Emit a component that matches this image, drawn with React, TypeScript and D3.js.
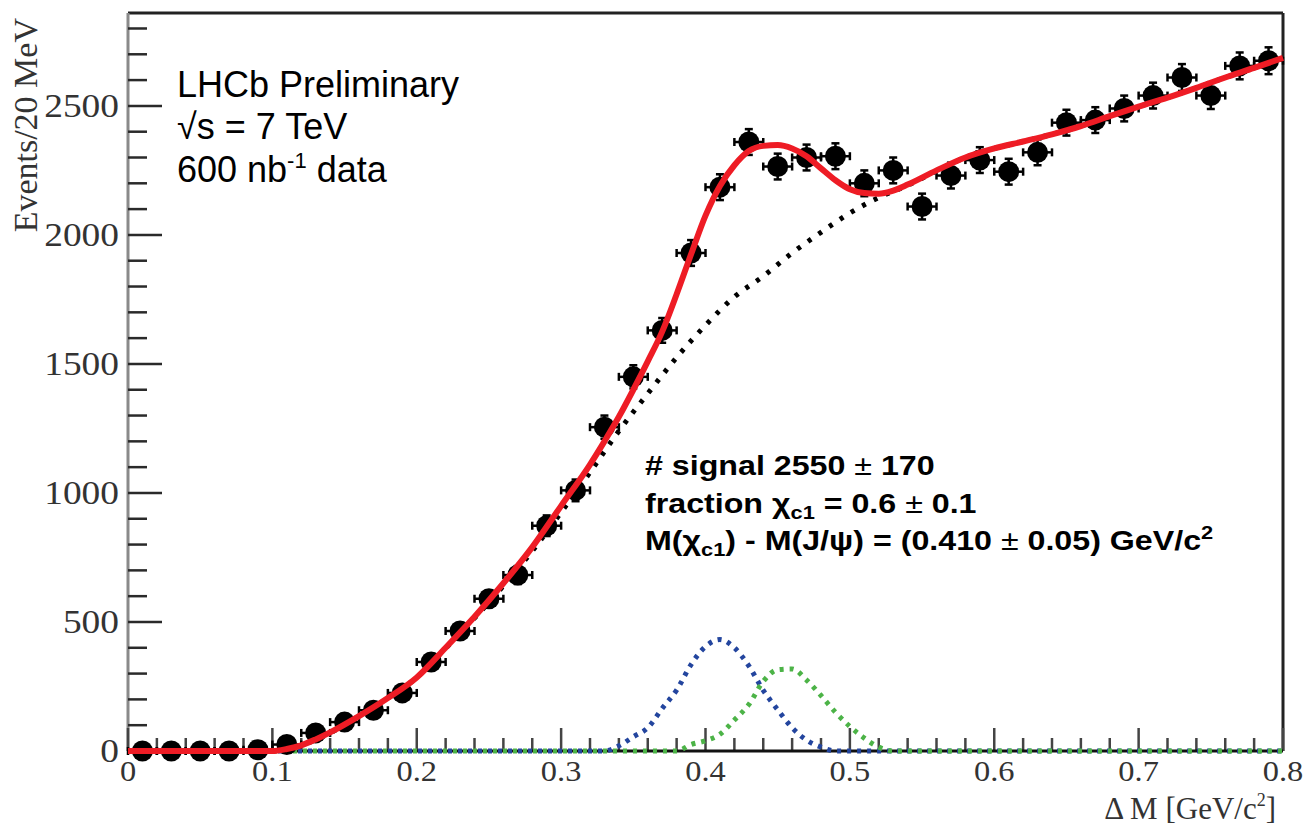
import React from "react";
import * as d3 from "d3";

// Measured Δm distribution (bin centres, counts, Poisson errors)
const binCenters = [
  0.01, 0.03, 0.05, 0.07, 0.09, 0.11, 0.13, 0.15, 0.17, 0.19,
  0.21, 0.23, 0.25, 0.27, 0.29, 0.31, 0.33, 0.35, 0.37, 0.39,
  0.41, 0.43, 0.45, 0.47, 0.49, 0.51, 0.53, 0.55, 0.57, 0.59,
  0.61, 0.63, 0.65, 0.67, 0.69, 0.71, 0.73, 0.75, 0.77, 0.79,
];
const counts = [
  0, 0, 0, 0, 5, 25, 70, 112, 158, 225,
  345, 465, 590, 682, 873, 1010, 1255, 1450, 1630, 1930,
  2185, 2360, 2265, 2300, 2305, 2200, 2250, 2110, 2230, 2290,
  2245, 2320, 2435, 2445, 2490, 2540, 2610, 2540, 2655, 2675,
];
const countErrors = [
  3, 3, 3, 3, 5, 8, 12, 15, 18, 20,
  25, 28, 32, 35, 40, 42, 45, 45, 48, 50,
  50, 50, 50, 50, 50, 50, 50, 50, 50, 50,
  50, 50, 50, 50, 50, 50, 52, 52, 52, 52,
];
const binHalfWidth = 0.01;

// Total fit
const fitX = [
  0, 0.05, 0.1, 0.11, 0.12, 0.13, 0.14, 0.16, 0.18, 0.2, 0.22, 0.24, 0.26, 0.28, 0.3,
  0.32, 0.33, 0.34, 0.35, 0.36, 0.37, 0.38, 0.39, 0.4, 0.41, 0.42, 0.43, 0.44, 0.45,
  0.46, 0.47, 0.48, 0.49, 0.5, 0.51, 0.52, 0.53, 0.54, 0.56, 0.58, 0.6, 0.62, 0.64,
  0.66, 0.68, 0.7, 0.72, 0.74, 0.76, 0.78, 0.8,
];
const fitTotal = [
  0, 0, 0, 8, 22, 45, 72, 135, 205, 285, 400, 520, 650, 790, 950,
  1110, 1200, 1295, 1400, 1510, 1625, 1770, 1925, 2075, 2190, 2270, 2325, 2345, 2348,
  2335, 2305, 2258, 2212, 2177, 2162, 2160, 2172, 2195, 2250, 2300, 2335, 2362, 2390,
  2422, 2460, 2497, 2532, 2570, 2610, 2647, 2686,
];

// Combinatorial background component
const bkgX = [
  0, 0.1, 0.12, 0.14, 0.16, 0.18, 0.2, 0.22, 0.24, 0.26, 0.28, 0.3, 0.32, 0.34, 0.36,
  0.38, 0.4, 0.42, 0.44, 0.46, 0.48, 0.5, 0.52, 0.54, 0.56, 0.58, 0.6, 0.62, 0.64,
  0.66, 0.68, 0.7, 0.72, 0.74, 0.76, 0.78, 0.8,
];
const bkgValues = [
  0, 0, 22, 70, 135, 205, 285, 398, 515, 640, 775, 925, 1080, 1240, 1385,
  1525, 1650, 1760, 1840, 1930, 2010, 2085, 2145, 2192, 2248, 2300, 2335, 2362, 2390,
  2422, 2460, 2497, 2532, 2570, 2610, 2647, 2686,
];

// chi_c1 signal component
const chic1X = [0, 0.33, 0.34, 0.35, 0.36, 0.37, 0.38, 0.39, 0.4, 0.41, 0.42, 0.43, 0.44, 0.45, 0.46, 0.47, 0.48, 0.49, 0.8];
const chic1Values = [0, 0, 20, 55, 90, 165, 236, 335, 405, 432, 400, 330, 235, 160, 90, 42, 15, 0, 0];

// chi_c2 signal component
const chic2X = [0, 0.38, 0.39, 0.4, 0.41, 0.42, 0.43, 0.44, 0.45, 0.46, 0.47, 0.48, 0.49, 0.5, 0.51, 0.52, 0.53, 0.8];
const chic2Values = [0, 0, 25, 40, 65, 120, 180, 270, 315, 318, 275, 215, 150, 95, 50, 15, 0, 0];

const xMajorTicks = [0, 0.1, 0.2, 0.3, 0.4, 0.5, 0.6, 0.7, 0.8];
const xTickLabels = ["0", "0.1", "0.2", "0.3", "0.4", "0.5", "0.6", "0.7", "0.8"];
const yMajorTicks = [0, 500, 1000, 1500, 2000, 2500];
const yTickLabels = ["0", "500", "1000", "1500", "2000", "2500"];

const W = 1305;
const H = 825;
const plotLeft = 128;
const plotRight = 1283;
const plotTop = 13;
const plotBottom = 751;

const SERIF = "'Liberation Serif', 'Times New Roman', serif";
const SANS = "'Liberation Sans', Arial, Helvetica, sans-serif";

export default function App() {
  const x = d3.scaleLinear().domain([0, 0.8]).range([plotLeft, plotRight]);
  const y = d3.scaleLinear().domain([0, 2860]).range([plotBottom, plotTop]);

  const xMinor = d3.range(0, 0.8001, 0.02).filter((v) => Math.abs(v * 10 - Math.round(v * 10)) > 1e-6);
  const yMinor = d3.range(100, 2801, 100).filter((v) => v % 500 !== 0);

  const line = d3
    .line<[number, number]>()
    .x((d) => x(d[0]))
    .y((d) => y(d[1]))
    .curve(d3.curveMonotoneX);

  const pairs = (xs: number[], vs: number[]) => xs.map((v, i) => [v, vs[i]] as [number, number]);

  const capX = 4;
  const capY = 4;

  return (
    <svg
      width={W}
      height={H}
      viewBox={`0 0 ${W} ${H}`}
      style={{ position: "absolute", left: 0, top: 0, background: "#fff" }}
    >
      <rect x={0} y={0} width={W} height={H} fill="#fff" />

      {/* frame */}
      <line x1={plotLeft} x2={plotRight} y1={plotTop} y2={plotTop} stroke="#222" strokeWidth={3} />
      <line x1={plotRight} x2={plotRight} y1={plotTop} y2={plotBottom} stroke="#222" strokeWidth={3} />
      <line x1={plotLeft} x2={plotLeft} y1={plotTop} y2={plotBottom} stroke="#8a8a8a" strokeWidth={3} />

      {/* y ticks */}
      {yMajorTicks.map((t) => (
        <line key={"ym" + t} x1={plotLeft} x2={plotLeft + 34} y1={y(t)} y2={y(t)} stroke="#2a2a2a" strokeWidth={2.5} />
      ))}
      {yMinor.map((t) => (
        <line key={"yn" + t} x1={plotLeft} x2={plotLeft + 19} y1={y(t)} y2={y(t)} stroke="#2a2a2a" strokeWidth={2.5} />
      ))}
      {yMajorTicks.map((t, i) => (
        <text
          key={"yl" + t}
          transform={`translate(${plotLeft - 9}, ${y(t) + 11}) scale(1.1, 1)`}
          textAnchor="end"
          fontFamily={SERIF}
          fontSize={34}
          fill="#333"
        >
          {yTickLabels[i]}
        </text>
      ))}

      {/* x ticks */}
      {xMajorTicks.map((t) => (
        <line key={"xm" + t} x1={x(t)} x2={x(t)} y1={plotBottom} y2={plotBottom - 23} stroke="#444" strokeWidth={2.5} />
      ))}
      {xMinor.map((t) => (
        <line key={"xn" + t} x1={x(t)} x2={x(t)} y1={plotBottom} y2={plotBottom - 13} stroke="#444" strokeWidth={2.5} />
      ))}
      {xMajorTicks.map((t, i) => (
        <text
          key={"xl" + t}
          transform={`translate(${x(t)}, 781) scale(1.08, 1)`}
          textAnchor="middle"
          fontFamily={SERIF}
          fontSize={30}
          fill="#333"
        >
          {xTickLabels[i]}
        </text>
      ))}

      {/* axis titles */}
      <text
        transform={`translate(37, 18) rotate(-90)`}
        textAnchor="end"
        fontFamily={SERIF}
        fontSize={34}
        fill="#333"
      >
        Events/20 MeV
      </text>
      <text x={1276} y={819} textAnchor="end" fontFamily={SERIF} fontSize={31} fill="#333">
        Δ M [GeV/c
        <tspan fontSize={18} dy={-13}>2</tspan>
        <tspan dy={13}>]</tspan>
      </text>

      {/* x axis line */}
      <line x1={plotLeft} x2={plotRight} y1={plotBottom} y2={plotBottom} stroke="#111" strokeWidth={3} />

      {/* fit components */}
      <path
        d={line(pairs(bkgX, bkgValues)) || ""}
        fill="none"
        stroke="#000"
        strokeWidth={5}
        strokeDasharray="4 9"
      />
      <path
        d={line(pairs(chic1X, chic1Values)) || ""}
        fill="none"
        stroke="#23459e"
        strokeWidth={5}
        strokeDasharray="4 6"
      />
      <path
        d={line(pairs(chic2X, chic2Values)) || ""}
        fill="none"
        stroke="#4cb347"
        strokeWidth={5}
        strokeDasharray="4 6"
        strokeDashoffset={5}
      />

      {/* data points with errors */}
      {binCenters.map((c, i) => {
        const cx = x(c);
        const cy = y(counts[i]);
        const xl = x(c - binHalfWidth);
        const xr = x(c + binHalfWidth);
        const yt = y(counts[i] + countErrors[i]);
        const yb = y(counts[i] - countErrors[i]);
        return (
          <g key={"p" + i} stroke="#000" strokeWidth={2.5}>
            <line x1={xl} x2={xr} y1={cy} y2={cy} />
            <line x1={xl} x2={xl} y1={cy - capX} y2={cy + capX} />
            <line x1={xr} x2={xr} y1={cy - capX} y2={cy + capX} />
            <line x1={cx} x2={cx} y1={yt} y2={yb} />
            <line x1={cx - capY} x2={cx + capY} y1={yt} y2={yt} />
            <line x1={cx - capY} x2={cx + capY} y1={yb} y2={yb} />
            <circle cx={cx} cy={cy} r={10.5} fill="#000" stroke="none" />
          </g>
        );
      })}

      {/* total fit */}
      <path d={line(pairs(fitX, fitTotal)) || ""} fill="none" stroke="#ee1c25" strokeWidth={6} />

      {/* experiment label */}
      <g fontFamily={SANS} fontSize={36} fill="#000">
        <text x={177} y={97}>LHCb Preliminary</text>
        <text x={177} y={139}>√s = 7 TeV</text>
        <text x={177} y={182}>
          600 nb
          <tspan fontSize={22} dy={-14}>-1</tspan>
          <tspan dy={14}> data</tspan>
        </text>
      </g>

      {/* fit results */}
      <g
        transform="translate(645, 0) scale(1.15, 1)"
        fontFamily={SANS}
        fontSize={28}
        fontWeight="bold"
        fill="#000"
      >
        <text x={0} y={475}>
          # signal 2550 <tspan fontWeight="normal">±</tspan> 170
        </text>
        <text x={0} y={513}>
          fraction χ
          <tspan fontSize={19} dy={6}>c1</tspan>
          <tspan dy={-6}> = 0.6 </tspan>
          <tspan fontWeight="normal">±</tspan> 0.1
        </text>
        <text x={0} y={550}>
          M(χ
          <tspan fontSize={19} dy={6}>c1</tspan>
          <tspan dy={-6}>) - M(J/ψ) = (0.410 </tspan>
          <tspan fontWeight="normal">±</tspan> 0.05) GeV/c
          <tspan fontSize={19} dy={-11}>2</tspan>
        </text>
      </g>
    </svg>
  );
}
